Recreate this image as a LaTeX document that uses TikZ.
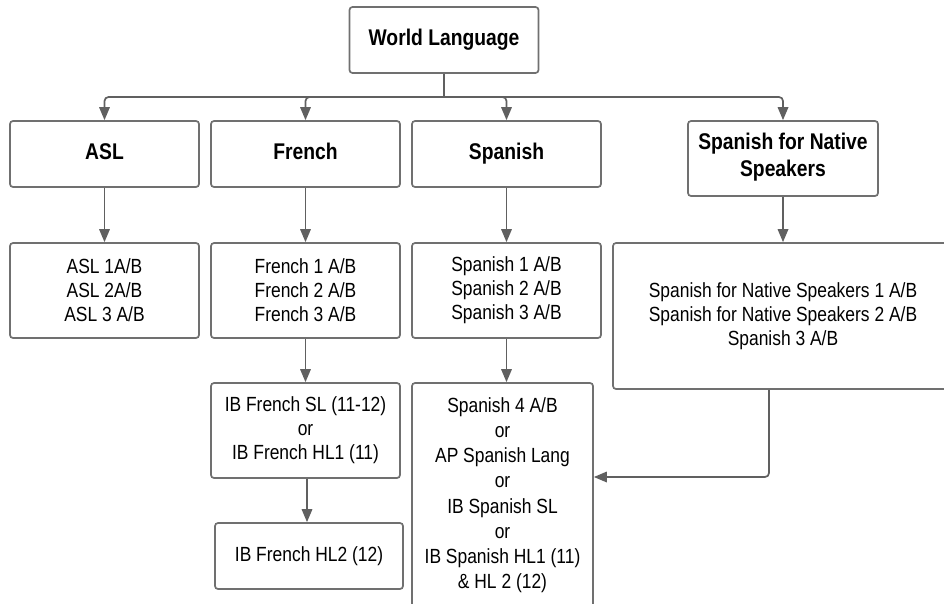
\documentclass[tikz,border=0pt]{standalone}
\usepackage{fontspec}
\setmainfont{Liberation Sans}[FakeStretch=0.85]
\usetikzlibrary{arrows.meta}
\definecolor{boxgray}{RGB}{112,112,112}
\definecolor{linegray}{RGB}{96,96,96}
\tikzset{x=1pt, y=-1pt,
course/.style={ % Sets the properties for each box
draw=boxgray,
line width=1.7pt,
rounded corners=3pt,
fill=white,
align=center,
inner sep=0pt,
font={\fontsize{20.5}{24}\selectfont}},
heading/.style={ % Bold boxes of the first rows
course,
execute at begin node={\strut},
execute at end node={\strut},
font={\fontsize{22.7}{27}\selectfont\bfseries}},
link/.style={ % Sets the properties for each connector
draw=linegray,
line width=1.7pt,
rounded corners=4pt,
-{Triangle[length=13pt,width=10.5pt]}}}

\begin{document}
\begin{tikzpicture}
	\useasboundingbox (0,0) rectangle (944,603);
	\clip (0,0) rectangle (944,603);
	\node[heading, minimum width=189, minimum height=66] (wl) at (444,40) {World Language};
	\node[heading, minimum width=189, minimum height=66] (asl) at (104.5,154) {ASL};
	\node[heading, minimum width=189, minimum height=66] (fr) at (305.5,154) {French};
	\node[heading, minimum width=189, minimum height=66] (sp) at (506.5,154) {Spanish};
	\node[heading, minimum width=190, minimum height=75] (sns) at (783,158.5) {Spanish for Native\\Speakers};
	\node[course, minimum width=189, minimum height=95] (asl1) at (104.5,290.5) {ASL 1A/B\\ASL 2A/B\\ASL 3 A/B};
	\node[course, minimum width=189, minimum height=95] (fr1) at (305.5,290.5) {French 1 A/B\\French 2 A/B\\French 3 A/B};
	\node[course, minimum width=189, minimum height=95] (sp1) at (506.5,290.5) {Spanish 1 A/B\\Spanish 2 A/B\\Spanish 3 A/B};
	\node[course, minimum width=340, minimum height=146] (sns1) at (783,316) {Spanish for Native Speakers 1 A/B\\Spanish for Native Speakers 2 A/B\\Spanish 3 A/B};
	\node[course, minimum width=189, minimum height=95] (frib) at (305.5,430.5) {IB French SL (11-12)\\or\\IB French HL1 (11)};
	\node[course, minimum width=188, minimum height=66] (frhl) at (309,556) {IB French HL2 (12)};
	\node[course, minimum width=181, minimum height=230, font={\fontsize{20.5}{25.2}\selectfont}] (sp4) at (502.5,498) {Spanish 4 A/B\\or\\AP Spanish Lang\\or\\IB Spanish SL\\or\\IB Spanish HL1 (11)\\\& HL 2 (12)\rule[-10pt]{0pt}{0pt}};
	\coordinate (bar) at (444,97);
	\coordinate (turn) at (769,477);
	\draw[link, -] (wl) -- (bar);
	\draw[link] (bar) -| (asl);
	\draw[link] (bar) -| (fr);
	\draw[link] (bar) -| (sp);
	\draw[link] (bar) -| (sns);
	\draw[link] (asl) -- (asl1);
	\draw[link] (fr) -- (fr1);
	\draw[link] (sp) -- (sp1);
	\draw[link] (sns) -- (sns.south |- sns1.north);
	\draw[link] (fr1) -- (frib);
	\draw[link] (sp1) -- (sp1.south |- sp4.north);
	\draw[link] (frib.south -| 307,0) -- (frhl.north -| 307,0);
	\draw[link] (sns1.south -| turn) |- (sp4.east |- turn);
\end{tikzpicture}
\end{document}
